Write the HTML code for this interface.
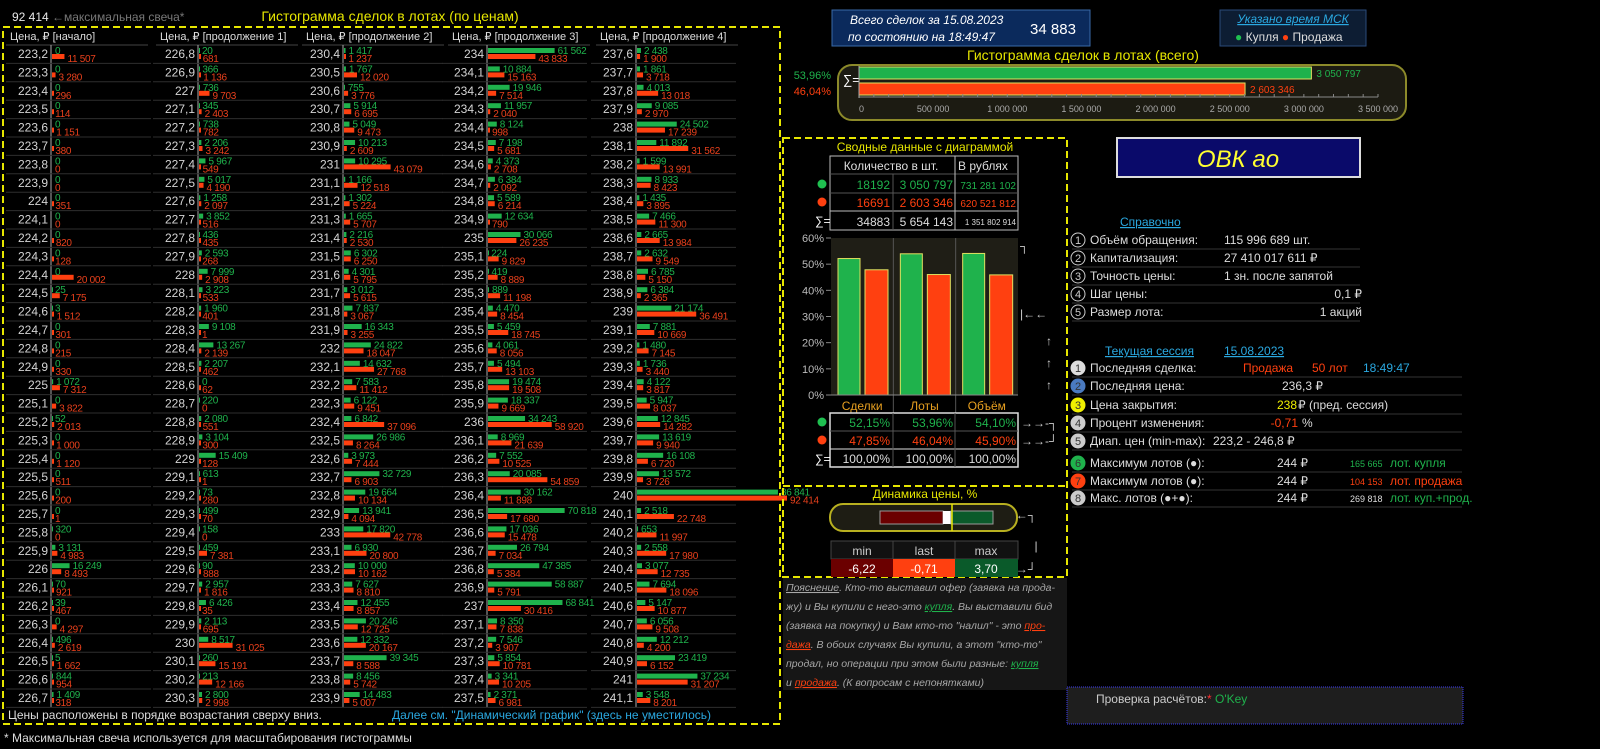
<!DOCTYPE html>
<html><head><meta charset="utf-8"><style>
html,body{margin:0;padding:0;background:#000;width:1600px;height:749px;overflow:hidden}
svg{display:block;font-family:"Liberation Sans","Noto Sans CJK SC",sans-serif}
</style></head><body>
<svg id="root" width="1600" height="749" viewBox="0 0 1600 749">
<rect x="0" y="0" width="1600" height="749" fill="#000"/>
<!-- left panel static -->
<text x="12" y="21" font-size="12" fill="#e8e8e8">92 414</text>
<text x="52" y="21" font-size="12" fill="#777">←максимальная свеча*</text>
<text x="390" y="21" font-size="14" fill="#e6e600" text-anchor="middle">Гистограмма сделок в лотах (по ценам)</text>
<rect x="3" y="27" width="777" height="697" fill="none" stroke="#e6e600" stroke-width="2" stroke-dasharray="7,4"/>
<text x="8" y="719" font-size="12" fill="#ddd">Цены расположены в порядке возрастания сверху вниз.</text>
<text x="392" y="719" font-size="12" fill="#2aa8e0">Далее см. "Динамический график" (здесь не уместилось)</text>
<text x="4" y="742" font-size="12" fill="#ddd">* Максимальная свеча используется для масштабирования гистограммы</text>
<g id="cols"></g>

<!-- top right -->
<rect x="832" y="10" width="258" height="36" fill="#0b2a5c" stroke="#3a6aa8"/>
<text x="850" y="24" font-size="12" font-style="italic" fill="#fff">Всего сделок за  15.08.2023</text>
<text x="848" y="41" font-size="12" font-style="italic" fill="#fff">по состоянию на  18:49:47</text>
<text x="1053" y="34" font-size="15" fill="#fff" text-anchor="middle">34 883</text>
<rect x="1220" y="10" width="146" height="36" fill="#0d1d33" stroke="#2a4a7a"/>
<text x="1293" y="23" font-size="12" font-style="italic" fill="#2aa8e0" text-anchor="middle" text-decoration="underline">Указано время МСК</text>
<text x="1235" y="41" font-size="12" fill="#ddd"><tspan fill="#1fc050">●</tspan> Купля <tspan fill="#ff4010">●</tspan> Продажа</text>
<text x="1083" y="60" font-size="14" fill="#e6e600" text-anchor="middle">Гистограмма сделок в лотах (всего)</text>
<rect x="838" y="65" width="568" height="55" rx="14" fill="#1c1b12" stroke="#8c8a2a" stroke-width="2"/>
<text x="831" y="79" font-size="11" fill="#1fb24c" text-anchor="end">53,96%</text>
<text x="831" y="95" font-size="11" fill="#ff4010" text-anchor="end">46,04%</text>
<text x="843" y="84" font-size="13" fill="#fff">∑=</text>
<g id="totals"></g>

<!-- middle panel -->
<rect x="783" y="138" width="284" height="439" fill="none" stroke="#e6e600" stroke-width="2" stroke-dasharray="7,4"/>
<line x1="783" y1="486" x2="1067" y2="486" stroke="#e6e600" stroke-width="2" stroke-dasharray="7,4"/>
<text x="925" y="151" font-size="12" fill="#e6e600" text-anchor="middle">Сводные данные с диаграммой</text>
<g font-size="12">
<rect x="830" y="156" width="188" height="74" fill="none" stroke="#bbb"/>
<line x1="830" y1="174" x2="1018" y2="174" stroke="#555"/><line x1="830" y1="193" x2="1018" y2="193" stroke="#555"/><line x1="830" y1="211" x2="1018" y2="211" stroke="#bbb"/>
<line x1="893" y1="174" x2="893" y2="230" stroke="#555"/><line x1="955" y1="156" x2="955" y2="230" stroke="#bbb"/>
<text x="891" y="170" fill="#ddd" text-anchor="middle">Количество в шт.</text><text x="958" y="170" fill="#ddd">В рублях</text>
<circle cx="822" cy="184" r="4.5" fill="#1fc050"/><circle cx="822" cy="202" r="4.5" fill="#ff4010"/><text x="815" y="225" fill="#fff">∑=</text>
<text x="890" y="189" fill="#1fb24c" text-anchor="end">18192</text><text x="953" y="189" fill="#1fb24c" text-anchor="end">3 050 797</text><text x="1016" y="189" fill="#1fb24c" font-size="10" text-anchor="end">731 281 102</text>
<text x="890" y="207" fill="#ff4010" text-anchor="end">16691</text><text x="953" y="207" fill="#ff4010" text-anchor="end">2 603 346</text><text x="1016" y="207" fill="#ff4010" font-size="10" text-anchor="end">620 521 812</text>
<text x="890" y="226" fill="#ddd" text-anchor="end">34883</text><text x="953" y="226" fill="#ddd" text-anchor="end">5 654 143</text><text x="1016" y="225" fill="#ddd" font-size="8" text-anchor="end">1 351 802 914</text>
</g>
<g id="pctchart"></g>
<g font-size="12">
<rect x="830" y="413" width="188" height="54" fill="none" stroke="#ddd" stroke-width="1.5"/>
<line x1="830" y1="431" x2="1018" y2="431" stroke="#555"/><line x1="830" y1="449" x2="1018" y2="449" stroke="#ddd"/>
<line x1="893" y1="413" x2="893" y2="467" stroke="#555"/><line x1="955" y1="413" x2="955" y2="467" stroke="#555"/>
<circle cx="822" cy="422" r="4.5" fill="#1fc050"/><circle cx="822" cy="440" r="4.5" fill="#ff4010"/><text x="815" y="463" fill="#fff">∑=</text>
<text x="890" y="427" fill="#1fb24c" text-anchor="end">52,15%</text><text x="953" y="427" fill="#1fb24c" text-anchor="end">53,96%</text><text x="1016" y="427" fill="#1fb24c" text-anchor="end">54,10%</text>
<text x="890" y="445" fill="#ff4010" text-anchor="end">47,85%</text><text x="953" y="445" fill="#ff4010" text-anchor="end">46,04%</text><text x="1016" y="445" fill="#ff4010" text-anchor="end">45,90%</text>
<text x="890" y="463" fill="#ddd" text-anchor="end">100,00%</text><text x="953" y="463" fill="#ddd" text-anchor="end">100,00%</text><text x="1016" y="463" fill="#ddd" text-anchor="end">100,00%</text>
<text x="1021" y="427" fill="#ccc">→→-┐</text><text x="1021" y="445" fill="#ccc">→→-┘</text>
<text x="1020" y="250" fill="#ccc">┐</text><text x="1020" y="318" fill="#ccc">|←←</text><text x="1046" y="345" fill="#ccc">↑</text><text x="1046" y="367" fill="#ccc">↑</text><text x="1046" y="389" fill="#ccc">↑</text>
</g>
<text x="925" y="498" font-size="12" fill="#e6e600" text-anchor="middle">Динамика цены, %</text>
<rect x="830" y="504" width="187" height="27" rx="13" fill="#1e1d14" stroke="#b8b020" stroke-width="2"/>
<rect x="880" y="511" width="63" height="13" fill="#6b0000" stroke="#999"/>
<rect x="943" y="511" width="8" height="13" fill="#fff"/>
<rect x="951" y="511" width="42" height="13" fill="#0a5a2a" stroke="#999"/>
<line x1="952" y1="504" x2="952" y2="531" stroke="#e6e600" stroke-width="1.5"/>
<g font-size="12" text-anchor="middle">
<rect x="831" y="541" width="187" height="18" fill="#111" stroke="#444"/>
<line x1="893" y1="541" x2="893" y2="559" stroke="#444"/><line x1="955" y1="541" x2="955" y2="559" stroke="#444"/>
<text x="862" y="555" fill="#ccc">min</text><text x="924" y="555" fill="#ccc">last</text><text x="986" y="555" fill="#ccc">max</text>
<rect x="831" y="559" width="62" height="18" fill="#6b0000"/><rect x="893" y="559" width="62" height="18" fill="#ff4010"/><rect x="955" y="559" width="63" height="18" fill="#0a5a2a"/>
<text x="862" y="573" fill="#fff">-6,22</text><text x="924" y="573" fill="#fff">-0,71</text><text x="986" y="573" fill="#fff">3,70</text>
<text x="1026" y="519" fill="#ccc">←┐</text><text x="1036" y="550" fill="#ccc">|</text><text x="1026" y="573" fill="#ccc">→┘</text>
</g>
<rect x="783" y="578" width="284" height="112" fill="#161616"/>
<g font-size="10.5" font-style="italic" fill="#a8a8a8">
<text x="786" y="591"><tspan text-decoration="underline">Пояснение</tspan>. Кто-то выставил офер (заявка на прода-</text>
<text x="786" y="610">жу) и Вы купили с него-это <tspan fill="#1fb24c" text-decoration="underline">купля</tspan>. Вы выставили бид</text>
<text x="786" y="629">(заявка на покупку) и Вам кто-то "налил" - это <tspan fill="#ff4010" text-decoration="underline">про-</tspan></text>
<text x="786" y="648"><tspan fill="#ff4010" text-decoration="underline">дажа</tspan>. В обоих случаях Вы купили, а этот "кто-то"</text>
<text x="786" y="667">продал, но операции при этом были разные: <tspan fill="#1fb24c" text-decoration="underline">купля</tspan></text>
<text x="786" y="686">и <tspan fill="#ff4010" text-decoration="underline">продажа</tspan>. (К вопросам с непонятками)</text>
</g>

<!-- right panel -->
<rect x="1117" y="138" width="243" height="39" fill="#0a0a6a" stroke="#ddd" stroke-width="2"/>
<text x="1238" y="167" font-size="24" font-style="italic" fill="#ffff30" text-anchor="middle">ОВК ао</text>
<g font-size="12" fill="#ddd">
<text x="1120" y="226" fill="#2aa8e0" text-decoration="underline">Справочно</text>
<g id="refrows"></g>
<text x="1105" y="355" fill="#2aa8e0" text-decoration="underline">Текущая сессия   </text><text x="1224" y="355" fill="#2aa8e0" text-decoration="underline">15.08.2023</text>
<g id="sesrows"></g>
</g>
<rect x="1067" y="687" width="396" height="37" fill="#1e1e1e" stroke="#3a3af0" stroke-dasharray="1,1"/>
<text x="1096" y="703" font-size="12" fill="#ccc">Проверка расчётов:<tspan fill="#ff3030">*</tspan> <tspan fill="#1fb24c">O'Key</tspan></text>
</svg>
<script>
// ---- price histogram data (5 columns, 36 rows each) ----
const colStartPrices = [223.2, 226.8, 230.4, 234.0, 237.6];
const colHeaders = ["Цена, ₽ [начало]", "Цена, ₽ [продолжение 1]", "Цена, ₽ [продолжение 2]", "Цена, ₽ [продолжение 3]", "Цена, ₽ [продолжение 4]"];
const buy1 = [0,0,0,0,0,0,0,0,0,0,0,0,0,25,3,0,0,0,1072,0,52,0,0,0,0,0,320,3131,16249,70,39,0,496,5,844,1409];
const sell1 = [11507,3280,296,114,1151,380,0,0,351,0,820,128,20002,7175,1512,301,215,330,7312,3822,2013,1000,1120,511,200,1,0,4983,8493,921,467,4297,2619,1662,954,318];
const buy2 = [20,366,736,345,738,2206,5967,5017,1258,3852,436,2593,7999,3223,1960,9108,13267,2207,0,220,2080,3104,15409,613,73,499,158,459,90,2957,6426,2113,8517,260,213,2800];
const sell2 = [681,1136,9703,2403,782,3242,549,4190,2097,516,435,268,2908,533,401,1,2139,462,62,0,551,300,128,1,280,70,0,7381,888,1816,35,695,31025,15191,12166,2998];
const buy3 = [1417,1767,755,5914,5049,10213,10295,1166,1302,1665,2216,6302,4301,3012,7837,16343,24822,14632,7583,6122,6842,26986,3973,32729,19664,13941,17820,6930,10000,7627,12455,20246,12332,39345,8456,14483];
const sell3 = [1237,12020,3776,6695,9473,2609,43079,12518,5224,5707,2530,6250,5795,5615,3067,3255,18047,27768,11412,9451,37096,8264,7444,6903,10134,4094,42778,20800,10162,8810,8857,12725,20167,8588,5742,5007];
const buy4 = [61562,10884,19946,11957,8124,7198,4373,6384,5589,12634,30066,224,419,889,4470,5459,4061,5494,19474,18337,34243,8969,7552,20085,30162,70818,17036,26794,47385,58887,68841,8350,7546,5854,3341,2371];
const sell4 = [43833,15163,7514,2040,998,5681,2708,2092,6214,790,26235,9829,8889,11198,8454,18745,8056,13103,19508,9669,58920,21639,10525,54859,11898,17680,15478,7034,5384,5791,30416,7838,3907,10781,10205,6981];
const buy5 = [2438,1861,4013,9085,24502,11892,1599,8933,1435,7466,2665,2632,6785,6384,21174,7881,1480,1736,4122,5947,12845,13619,16108,13572,86841,2518,653,2558,3077,7694,5147,6056,12212,23419,37234,3548];
const sell5 = [1900,3718,13018,2970,17239,31562,13991,8423,3895,11300,13984,9549,5150,2365,36491,10669,7145,3440,3817,8037,14282,9940,6720,3726,92414,22748,11997,17980,12735,18096,10877,9508,4200,6152,31207,8201];
const maxCandle = 92414;
// ---- totals ----
const totalLabels = ["Купля", "Продажа"];
const totalValues = [3050797, 2603346];
const totalTicks = [0,500000,1000000,1500000,2000000,2500000,3000000,3500000];
// ---- share chart ----
const shareCats = ["Сделки", "Лоты", "Объём"];
const shareBuy = [52.15, 53.96, 54.10];
const shareSell = [47.85, 46.04, 45.90];
const shareTicks = [0,10,20,30,40,50,60];
// ---- reference rows ----
const refLabels = ["Объём обращения:", "Капитализация:", "Точность цены:", "Шаг цены:", "Размер лота:"];
const refValues = ["115 996 689 шт.", "27 410 017 611 ₽", "1 зн. после запятой", "0,1 ₽", "1 акций"];

const NS = "http://www.w3.org/2000/svg";
function mk(tag, attrs, parent, txt) {
  const e = document.createElementNS(NS, tag);
  for (const k in attrs) e.setAttribute(k, attrs[k]);
  if (txt !== undefined) e.textContent = txt;
  parent.appendChild(e);
  return e;
}
function fmt(n) { return String(Math.round(n)).replace(/\B(?=(\d{3})+(?!\d))/g, " "); }
function fmtPrice(p) { const s = (Math.round(p * 10) / 10).toFixed(1); return s.endsWith(".0") ? s.slice(0, -2) : s.replace(".", ","); }

// ---- draw price histogram ----
const cols = document.getElementById("cols");
const buys = [buy1, buy2, buy3, buy4, buy5];
const sells = [sell1, sell2, sell3, sell4, sell5];
const axisX = [51, 198, 343, 487, 636];
const headerX = [10, 160, 306, 452, 600];
const colMaxW = [100, 100, 100, 100, 150];
const rowH = 18.4, row0 = 45;
for (let c = 0; c < 5; c++) {
  const ax = axisX[c];
  const xs = v => v / maxCandle * colMaxW[c];
  const h = mk("text", {x: headerX[c], y: 40, "font-size": 11, fill: "#ddd"}, cols, colHeaders[c]);
  
  
  const hl = mk("line", {x1: headerX[c] - 4, y1: 45, x2: headerX[c] + 138, y2: 45, stroke: "#444"}, cols);
  
  
  const axl = mk("line", {x1: ax, y1: 45, x2: ax, y2: 45 + rowH * 36, stroke: "#aaa"}, cols);
  
  
  for (let i = 0; i < buys[c].length; i++) {
    const top = row0 + i * rowH;
    const sep = mk("line", {x1: ax - 45, y1: top + rowH, x2: ax + 100, y2: top + rowH, stroke: "#2e2e2e"}, cols);
    
    
    const pl = mk("text", {x: ax - 3, y: top + 13, "font-size": 12, fill: "#d4d4d4", "text-anchor": "end"}, cols, fmtPrice(colStartPrices[c] + i * 0.1));
    
    
    const bw = xs(buys[c][i]), sw = xs(sells[c][i]);
    const gb = mk("rect", {x: ax + 1, y: top + 3, width: Math.max(bw, buys[c][i] > 0 ? 1 : 0), height: 5, fill: "#1fb24c"}, cols);
    
    
    const rb = mk("rect", {x: ax + 1, y: top + 9, width: Math.max(sw, sells[c][i] > 0 ? 2 : 0), height: 5, fill: "#ff4010"}, cols);
    
    
    const gt = mk("text", {x: ax + 4 + bw, y: top + 9, "font-size": 10, fill: "#1fb24c", "letter-spacing": "-0.3"}, cols, fmt(buys[c][i]));
    
    
    const rt = mk("text", {x: ax + 4 + sw, y: top + 17, "font-size": 10, fill: "#e8401c", "letter-spacing": "-0.3"}, cols, fmt(sells[c][i]));
    
    
  }
}

// ---- totals histogram ----
const tg = document.getElementById("totals");
const tx0 = 859, tW = 519, tMax = 3500000;
const txs = v => tx0 + v / tMax * tW;
const totalColors = ["#1fb24c", "#ff4010"];
for (let i = 0; i < totalValues.length; i++) {
  const y = 67 + i * 16;
  const b = mk("rect", {x: tx0, y: y, width: txs(totalValues[i]) - tx0, height: 12, fill: totalColors[i], stroke: "#e0e060", "stroke-width": 1}, tg);
  
  
  const t = mk("text", {x: txs(totalValues[i]) + 5, y: y + 10, "font-size": 10, fill: totalColors[i]}, tg, fmt(totalValues[i]));
  
  
}
const tal = mk("line", {x1: tx0, y1: 97, x2: txs(tMax), y2: 97, stroke: "#888"}, tg);


for (let v = 0; v <= tMax; v += 100000) {
  const tk = mk("line", {x1: txs(v), y1: 94, x2: txs(v), y2: 97, stroke: "#888"}, tg);
  
  
}
for (const v of totalTicks) {
  const tl = mk("text", {x: txs(v), y: 112, "font-size": 9, fill: "#aaa", "text-anchor": v === 0 ? "start" : "middle"}, tg, fmt(v));
  
  
}
const vl = mk("line", {x1: tx0, y1: 66, x2: tx0, y2: 98, stroke: "#aaa"}, tg);



// ---- share chart ----
const pg = document.getElementById("pctchart");
const px0 = 831, px1 = 1018, py0 = 395, py1 = 238;
const pys = v => py0 - v / 60 * (py0 - py1);
const gw = (px1 - px0) / shareCats.length;
const bgr = mk("rect", {x: px0, y: py1, width: px1 - px0, height: py0 - py1, fill: "#1f1e16"}, pg);


for (const t of shareTicks) {
  const tl = mk("text", {x: 824, y: pys(t) + 4, "font-size": 11, fill: "#bbb", "text-anchor": "end"}, pg, t + "%");
  
  
  const tk = mk("line", {x1: 826, y1: pys(t), x2: px0, y2: pys(t), stroke: "#888"}, pg);
  
  
}
for (let i = 0; i < shareCats.length; i++) {
  const gx = px0 + i * gw;
  if (i > 0) {
    const d = mk("line", {x1: gx, y1: py1, x2: gx, y2: 413, stroke: "#555"}, pg);
    
    
  }
  const gb = mk("rect", {x: gx + 7, y: pys(shareBuy[i]), width: 22, height: py0 - pys(shareBuy[i]), fill: "#1fb24c", stroke: "#e0e060"}, pg);
  
  
  const rb = mk("rect", {x: gx + 34, y: pys(shareSell[i]), width: 23, height: py0 - pys(shareSell[i]), fill: "#ff4010", stroke: "#e0e060"}, pg);
  
  
  const cl = mk("text", {x: gx + gw / 2, y: 410, "font-size": 12, fill: "#e8a020", "text-anchor": "middle"}, pg, shareCats[i]);
  
  
}
const pax = mk("line", {x1: px0, y1: py0, x2: px1, y2: py0, stroke: "#888"}, pg);



// ---- reference rows ----
const rr = document.getElementById("refrows");
for (let i = 0; i < refLabels.length; i++) {
  const y = 244 + i * 18;
  const c = mk("circle", {cx: 1078, cy: y - 4, r: 7, fill: "none", stroke: "#ccc"}, rr);
  
  
  mk("text", {x: 1078, y: y, "font-size": 11, fill: "#ccc", "text-anchor": "middle"}, rr, String(i + 1));
  const l = mk("text", {x: 1090, y: y, fill: "#ddd"}, rr, refLabels[i]);
  
  
  const v = mk("text", {x: i >= 3 ? 1362 : 1224, y: y, fill: "#ddd", "text-anchor": i >= 3 ? "end" : "start"}, rr, refValues[i]);
  
  
  const s = mk("line", {x1: 1072, y1: y + 5, x2: 1360, y2: y + 5, stroke: "#333"}, rr);
  
  
}
// ---- session rows ----
const sr = document.getElementById("sesrows");
const sesLabels = ["Последняя сделка:", "Последняя цена:", "Цена закрытия:", "Процент  изменения:", "Диап. цен (min-max):", "Максимум лотов (●):", "Максимум лотов (●):", "Макс. лотов (●+●):"];
const badgeFill = ["#ddd", "#4a7ac0", "#f0f000", "#ccc", "#ccc", "#1fb24c", "#ff4010", "#ccc"];
const sesY = [372, 390, 409, 427, 445, 467, 485, 502];
for (let i = 0; i < sesLabels.length; i++) {
  const y = sesY[i];
  const c = mk("circle", {cx: 1078, cy: y - 4, r: 7.5, fill: badgeFill[i]}, sr);
  
  
  mk("text", {x: 1078, y: y, "font-size": 11, fill: "#333", "text-anchor": "middle"}, sr, String(i + 1));
  const l = mk("text", {x: 1090, y: y, fill: "#ddd"}, sr, sesLabels[i]);
  
  
  const s = mk("line", {x1: 1072, y1: y + 5, x2: 1462, y2: y + 5, stroke: "#333"}, sr);
  
  
}
function st(x, y, txt, fill, size, anchor) {
  const t = mk("text", {x: x, y: y, fill: fill, "font-size": size || 12, "text-anchor": anchor || "start"}, sr, txt);
  
  
  return t;
}
st(1243, 372, "Продажа", "#ff4010"); st(1312, 372, "50 лот", "#ff4010"); st(1363, 372, "18:49:47", "#2aa8e0");
st(1323, 390, "236,3 ₽", "#ddd", 12, "end");
st(1277, 409, "238", "#f0f000"); st(1298, 409, "₽ (пред. сессия)", "#ddd");
st(1298, 427, "-0,71", "#ff4010", 12, "end"); st(1302, 427, "%", "#ddd");
st(1213, 445, "223,2 - 246,8 ₽", "#ddd");
st(1277, 467, "244 ₽", "#ddd"); st(1350, 467, "165 665", "#1fb24c", 9); st(1390, 467, "лот. купля", "#1fb24c");
st(1277, 485, "244 ₽", "#ddd"); st(1350, 485, "104 153", "#ff4010", 9); st(1390, 485, "лот. продажа", "#ff4010");
st(1277, 502, "244 ₽", "#ddd"); st(1350, 502, "269 818", "#ddd", 9); st(1390, 502, "лот. куп.+прод.", "#1fb24c");
</script>
</body></html>
